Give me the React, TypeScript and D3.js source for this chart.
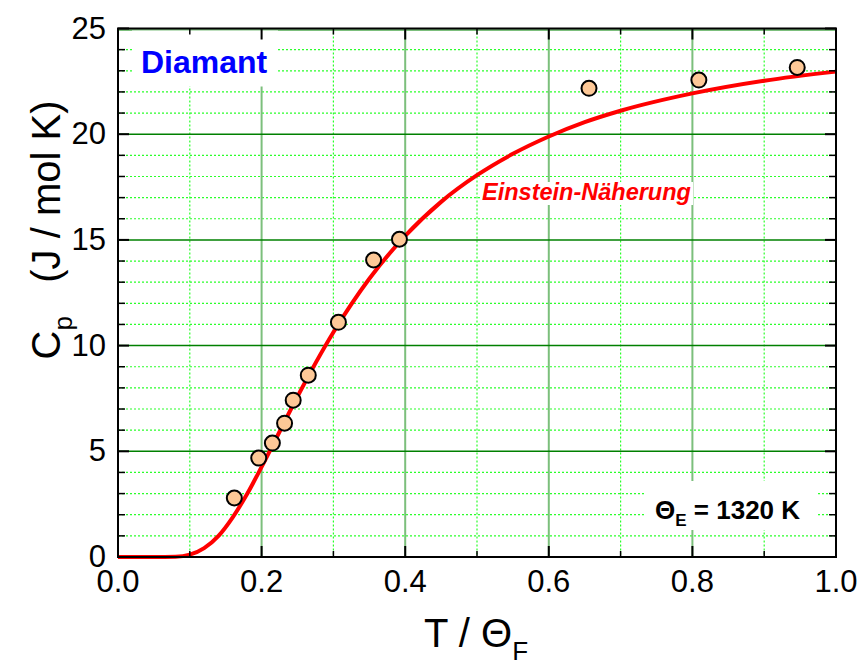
import * as d3 from "d3"

// measured heat capacity of diamond
const tempRatio = [0.162, 0.196, 0.215, 0.232, 0.244, 0.265, 0.307, 0.356, 0.392, 0.656, 0.809, 0.946]
const heatCap = [2.79, 4.68, 5.39, 6.33, 7.42, 8.6, 11.1, 14.05, 15.03, 22.17, 22.56, 23.16]

// Einstein curve
const curveT = [0, 0.05, 0.08, 0.1, 0.12, 0.14, 0.16, 0.18, 0.2, 0.22, 0.25, 0.3, 0.35, 0.4, 0.45, 0.5, 0.55, 0.6, 0.65, 0.7, 0.8, 0.9, 1.0]
const curveCp = [0, 0, 0.01, 0.11, 0.42, 1.0, 1.89, 2.99, 4.26, 5.59, 7.59, 10.63, 13.16, 15.19, 16.8, 18.06, 19.07, 19.89, 20.57, 21.11, 21.93, 22.53, 22.96]

const xTicks = [0, 0.2, 0.4, 0.6, 0.8, 1.0]
const yTicks = [0, 5, 10, 15, 20, 25]
const xMinor = [0.1, 0.3, 0.5, 0.7, 0.9]
const yMinor = d3.range(1, 25).filter((v) => v % 5 !== 0)

const W = 861
const H = 668
const left = 118
const right = 836
const top = 28.5
const bottom = 557

const FONT = "'Liberation Sans', Arial, sans-serif"

export default function App() {
  const x = d3.scaleLinear().domain([0, 1]).range([left, right])
  const y = d3.scaleLinear().domain([0, 25]).range([bottom, top])

  const line = d3
    .line<number>()
    .x((_, i) => x(curveT[i]))
    .y((d) => y(d))
    .curve(d3.curveMonotoneX)

  const minorStyle = { stroke: "#2bff2b", strokeWidth: 1.2, strokeDasharray: "2,2" }

  return (
    <svg width={W} height={H} style={{ position: "absolute", left: 0, top: 0, background: "#fff" }} fontFamily={FONT}>
      {/* minor grid */}
      {xMinor.map((v) => (
        <line key={"gx" + v} x1={x(v)} x2={x(v)} y1={top} y2={bottom} {...minorStyle} />
      ))}
      {yMinor.map((v) => (
        <line key={"gy" + v} x1={left} x2={right} y1={y(v)} y2={y(v)} {...minorStyle} />
      ))}
      {/* major grid */}
      {xTicks.slice(1, -1).map((v) => (
        <line key={"Gx" + v} x1={x(v)} x2={x(v)} y1={top} y2={bottom} stroke="#7cbf7c" strokeWidth={2} />
      ))}
      {yTicks.slice(1, -1).map((v) => (
        <line key={"Gy" + v} x1={left} x2={right} y1={y(v)} y2={y(v)} stroke="#008000" strokeWidth={1.5} />
      ))}
      <line x1={left} x2={right} y1={y(25) + 1.5} y2={y(25) + 1.5} stroke="#7cbf7c" strokeWidth={2} />

      {/* label boxes hide the grid */}
      <rect x={132} y={top + 2} width={146} height={56} fill="#fff" />
      <rect x={480} y={182} width={213} height={23} fill="#fff" />
      <rect x={645} y={481} width={172} height={49} fill="#fff" />

      {/* Einstein curve */}
      <path d={line(curveCp) ?? ""} fill="none" stroke="#ff0000" strokeWidth={4} />

      {/* data points */}
      {tempRatio.map((t, i) => (
        <circle key={i} cx={x(t)} cy={y(heatCap[i])} r={7.5} fill="#fdc897" stroke="#000" strokeWidth={2} />
      ))}

      {/* ticks on all four sides, pointing in */}
      {xTicks.map((v) => (
        <g key={"tx" + v}>
          <line x1={x(v)} x2={x(v)} y1={bottom} y2={bottom - 11} stroke="#000" strokeWidth={2} />
          <line x1={x(v)} x2={x(v)} y1={top} y2={top + 11} stroke="#000" strokeWidth={2} />
        </g>
      ))}
      {xMinor.map((v) => (
        <g key={"mx" + v}>
          <line x1={x(v)} x2={x(v)} y1={bottom} y2={bottom - 6} stroke="#000" strokeWidth={1.5} />
          <line x1={x(v)} x2={x(v)} y1={top} y2={top + 6} stroke="#000" strokeWidth={1.5} />
        </g>
      ))}
      {yTicks.map((v) => (
        <g key={"ty" + v}>
          <line x1={left} x2={left + 11} y1={y(v)} y2={y(v)} stroke="#000" strokeWidth={2} />
          <line x1={right} x2={right - 11} y1={y(v)} y2={y(v)} stroke="#000" strokeWidth={2} />
        </g>
      ))}
      {yMinor.map((v) => (
        <g key={"my" + v}>
          <line x1={left} x2={left + 7} y1={y(v)} y2={y(v)} stroke="#000" strokeWidth={1.5} />
          <line x1={right} x2={right - 7} y1={y(v)} y2={y(v)} stroke="#000" strokeWidth={1.5} />
        </g>
      ))}

      {/* frame */}
      <rect x={left} y={top} width={right - left} height={bottom - top} fill="none" stroke="#000" strokeWidth={2} />

      {/* tick labels */}
      {xTicks.map((v) => (
        <text key={"lx" + v} x={x(v)} y={592} textAnchor="middle" fontSize={31}>
          {d3.format(".1f")(v)}
        </text>
      ))}
      {yTicks.map((v) => (
        <text key={"ly" + v} x={left - 12} y={y(v) + 10} textAnchor="end" fontSize={31}>
          {v}
        </text>
      ))}

      {/* axis titles */}
      <text x={476} y={647} textAnchor="middle" fontSize={40}>
        T / Θ<tspan fontSize={26} dy={13}>F</tspan>
      </text>
      <text transform={`translate(60,230) rotate(-90)`} textAnchor="middle" fontSize={40} style={{ whiteSpace: "pre" }}>
        C<tspan fontSize={26} dy={12}>p</tspan>
        <tspan dy={-12}>{"   (J / mol K)"}</tspan>
      </text>

      {/* annotations */}
      <text x={141} y={73} fontSize={32} fontWeight="bold" fill="#0000ff">
        Diamant
      </text>
      <text x={482} y={200} fontSize={23.5} fontWeight="bold" fontStyle="italic" fill="#ff0000">
        Einstein-Näherung
      </text>
      <text x={655} y={519} fontSize={26} fontWeight="bold" fill="#000">
        Θ<tspan fontSize={17} dy={7}>E</tspan>
        <tspan dy={-7}>{" = 1320 K"}</tspan>
      </text>
    </svg>
  )
}
